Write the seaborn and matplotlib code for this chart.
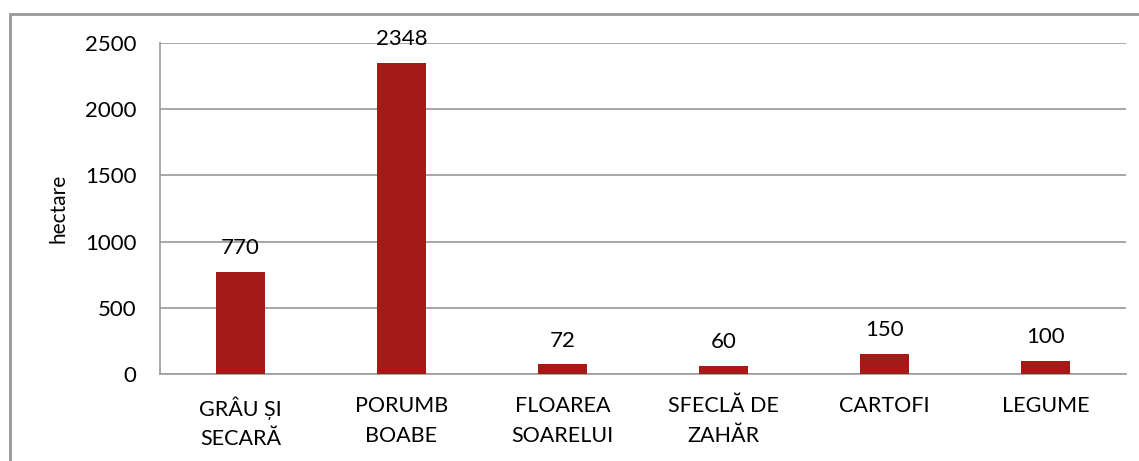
import matplotlib
matplotlib.use("Agg")
import matplotlib.pyplot as plt
from matplotlib.patches import Rectangle
import seaborn as sns
import pandas as pd

categories = ["GRÂU ȘI\nSECARĂ", "PORUMB\nBOABE", "FLOAREA\nSOARELUI",
              "SFECLĂ DE\nZAHĂR", "CARTOFI", "LEGUME"]
values = [770, 2348, 72, 60, 150, 100]
y_ticks = [0, 500, 1000, 1500, 2000, 2500]
y_label = "hectare"

sns.set_theme(style="white")
plt.rcParams["font.family"] = ["Lato", "DejaVu Sans"]

df = pd.DataFrame({"cultura": categories, "hectare": values})

fig = plt.figure(figsize=(11.39, 4.61), dpi=100)
ax = fig.add_axes([160 / 1139, 1 - 374 / 461, (1126 - 160) / 1139, (374 - 43) / 461])

bar_color = "#A31A16"
sns.barplot(data=df, x="cultura", y="hectare", color=bar_color, width=0.31,
            saturation=1, linewidth=0, ax=ax, zorder=3)

ax.set_ylim(0, 2500)
ax.set_yticks(y_ticks)
ax.set_yticklabels([str(t) for t in y_ticks], fontsize=16, color="#000000")
ax.set_xlim(-0.5, len(categories) - 0.5)
ax.tick_params(axis="x", labelsize=15.5, colors="#000000", pad=16, length=0)
ax.tick_params(axis="y", length=0, pad=17)
for lbl in ax.get_xticklabels():
    lbl.set_linespacing(1.6)

ax.set_xlabel("")
ax.set_ylabel(y_label, fontsize=15, color="#000000", labelpad=12)

grid_color = "#A0A0A0"
ax.grid(axis="y", color=grid_color, linewidth=1.3, zorder=0)
ax.grid(axis="x", visible=False)
for side in ["top", "right"]:
    ax.spines[side].set_visible(False)
ax.spines["left"].set_color(grid_color)
ax.spines["left"].set_linewidth(1.3)
ax.spines["bottom"].set_color(grid_color)
ax.spines["bottom"].set_linewidth(1.3)

for container in ax.containers:
    ax.bar_label(container, labels=[str(v) for v in values], padding=10,
                 fontsize=16, color="#000000")

# outer chart frame
fig.patches.append(Rectangle((10 / 1139, -0.1), 1.2, 1.1 - 14 / 461,
                             transform=fig.transFigure, fill=False,
                             edgecolor="#999999", linewidth=2, zorder=0))

fig.savefig("out.png", dpi=100, facecolor="white")
